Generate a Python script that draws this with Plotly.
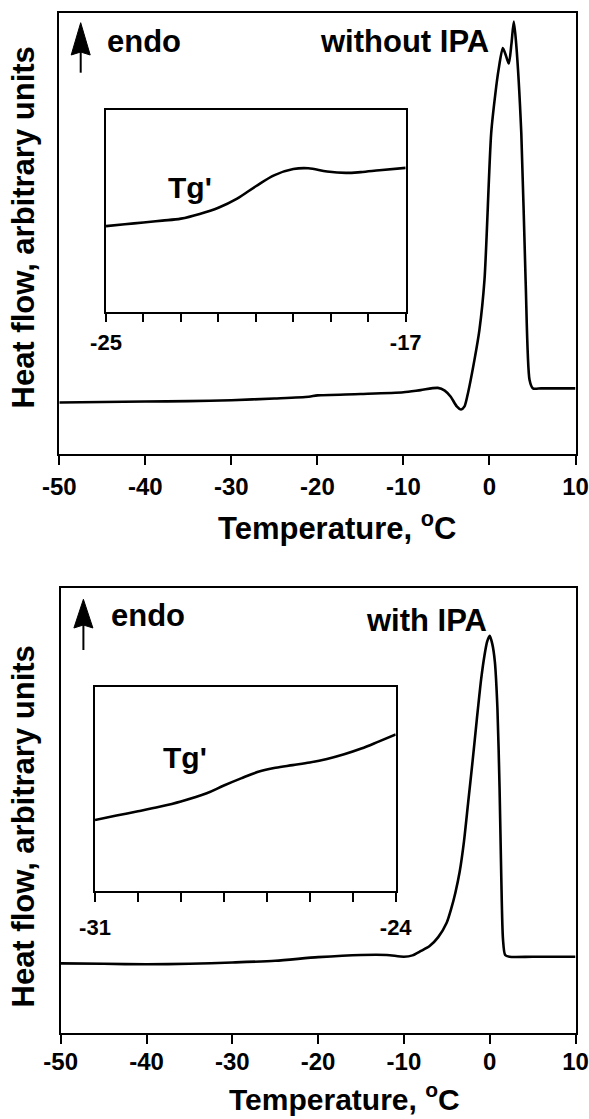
import plotly.graph_objects as go

W, H = 589, 1119

# ---------------- data ----------------
# Top panel: without IPA (main DSC trace)
top_T = [-50, -45, -40, -35, -30, -25, -21, -20, -15, -10, -8, -6.0, -5.2, -4.5, -3.8,
         -3.3, -2.9, -2.5, -1.75, -1.17, -0.58, 0.2, 0.7, 1.05, 1.55, 1.9, 2.25, 2.55,
         2.83, 3.1, 3.7, 4.2, 4.66, 5.05, 6, 8, 10]
top_hf = [11.7, 11.8, 11.9, 12.0, 12.2, 12.6, 13.0, 13.3, 13.6, 14.0, 14.5, 15.0, 14.4,
          13.0, 10.8, 10.1, 10.8, 13.8, 21.3, 28.1, 39.5, 72.8, 82.0, 87.1, 92.1, 90.5,
          88.6, 93.0, 98.1, 93.2, 72.8, 39.5, 16.8, 14.9, 14.9, 14.9, 14.9]

# Top inset (Tg' region, -25 .. -17)
top_in_T = [-25, -24.5, -24, -23.5, -23, -22.5, -22, -21.5, -21, -20.5, -20, -19.6,
            -19.1, -18.6, -18.2, -17.7, -17]
top_in_hf = [42.6, 43.5, 44.4, 45.3, 46.3, 48.6, 51.7, 56.2, 62.3, 67.8, 70.8, 71.2,
             69.6, 68.9, 69.3, 70.2, 71.4]

# Bottom panel: with IPA (main DSC trace)
bot_T = [-50, -45, -40, -35, -30, -25, -20, -15, -12, -10, -9, -8, -7, -6, -5, -4.5,
         -4, -3.5, -3, -2.5, -2, -1.5, -1, -0.6, -0.3, 0, 0.3, 0.6, 0.9, 1.15, 1.35,
         1.55, 1.8, 2.3, 5, 10]
bot_hf = [15.6, 15.5, 15.4, 15.5, 15.8, 16.2, 17.0, 17.5, 17.5, 17.1, 17.4, 18.4, 19.5,
          21.5, 24.8, 27.8, 31.5, 36.2, 43.0, 52.0, 61.0, 70.5, 79.5, 85.0, 88.0, 89.3,
          87.5, 83.5, 73.0, 55.0, 35.0, 21.0, 17.5, 17.1, 17.1, 17.1]

# Bottom inset (Tg' region, -31 .. -24)
bot_in_T = [-31, -30.5, -30, -29.5, -29, -28.4, -28, -27.6, -27.2, -26.8, -26.4, -26,
            -25.6, -25.2, -24.8, -24.4, -24]
bot_in_hf = [34.6, 36.8, 38.9, 41.1, 43.7, 47.7, 51.5, 55.0, 58.2, 60.2, 61.5, 62.8,
             64.5, 66.8, 69.6, 73.0, 76.5]

main_ticks = [-50, -40, -30, -20, -10, 0, 10]
top_in_labels = [-25, -17]
bot_in_labels = [-31, -24]

# ---------------- helpers ----------------
FONT = "Liberation Sans, Arial, Helvetica, sans-serif"


def px(x):
    return x / W


def py(y):
    return 1 - y / H


main_line = dict(color="black", width=2.6, shape="spline", smoothing=0.7)
inset_line = dict(color="black", width=2.6, shape="spline", smoothing=1.0)

fig = go.Figure()
fig.add_trace(go.Scatter(x=top_T, y=top_hf, mode="lines", line=main_line,
                         xaxis="x", yaxis="y", hoverinfo="skip"))
fig.add_trace(go.Scatter(x=top_in_T, y=top_in_hf, mode="lines", line=inset_line,
                         xaxis="x2", yaxis="y2", hoverinfo="skip"))
fig.add_trace(go.Scatter(x=bot_T, y=bot_hf, mode="lines", line=main_line,
                         xaxis="x3", yaxis="y3", hoverinfo="skip"))
fig.add_trace(go.Scatter(x=bot_in_T, y=bot_in_hf, mode="lines", line=inset_line,
                         xaxis="x4", yaxis="y4", hoverinfo="skip"))


def xax(domain, rng, tickvals, anchor, ticklen, fsize, standoff, minor=None):
    d = dict(domain=domain, range=rng, anchor=anchor, tickmode="array",
             tickvals=tickvals, ticktext=[str(v) for v in tickvals], ticks="outside",
             ticklen=ticklen, tickwidth=2, tickcolor="black",
             showline=True, mirror=True, linewidth=2, linecolor="black",
             showgrid=False, zeroline=False, automargin=False, fixedrange=True,
             ticklabeloverflow="allow",
             tickfont=dict(family=FONT, size=fsize, color="black", weight="bold"),
             ticklabelstandoff=standoff)
    if minor:
        d["minor"] = dict(ticks="outside", ticklen=ticklen, tickwidth=2,
                          tickcolor="black", dtick=minor, showgrid=False)
    return d


def yax(domain, anchor):
    return dict(domain=domain, range=[0, 100], anchor=anchor, showticklabels=False,
                ticks="", showline=True, mirror=True, linewidth=2, linecolor="black",
                showgrid=False, zeroline=False, automargin=False, fixedrange=True)


fig.update_layout(
    width=W, height=H, margin=dict(l=0, r=0, t=0, b=0, pad=0), autosize=False,
    paper_bgcolor="white", plot_bgcolor="white", showlegend=False,
    xaxis=xax([px(59.3), px(575.5)], [-50, 10], main_ticks, "y", 9, 24, 1),
    yaxis=yax([py(454), py(13.3)], "x"),
    xaxis2=xax([px(106), px(405.7)], [-25, -17], top_in_labels, "y2", 8, 22, 1,
               minor=1),
    yaxis2=yax([py(312.3), py(110)], "x2"),
    xaxis3=xax([px(60.7), px(575.5)], [-50, 10], main_ticks, "y3", 9, 24, -3),
    yaxis3=yax([py(1032.7), py(588.3)], "x3"),
    xaxis4=xax([px(95), px(395.7)], [-31, -24], bot_in_labels, "y4", 9, 22, 7,
               minor=1),
    yaxis4=yax([py(890.7), py(686.5)], "x4"),
)


def txt(text, x, y, size, xanchor="center", yanchor="middle", angle=0):
    fig.add_annotation(text=text, x=px(x), y=py(y), xref="paper", yref="paper",
                       showarrow=False, xanchor=xanchor, yanchor=yanchor,
                       textangle=angle,
                       font=dict(family=FONT, size=size, color="black", weight="bold"))


# top panel texts
txt("endo", 105, 41.7, 31, xanchor="left")
txt("without IPA", 404, 41.7, 31)
txt("Tg'", 190, 188, 30)
txt("Temperature, <sup>o</sup>C", 336.5, 548, 31, yanchor="bottom")
txt("Heat flow, arbitrary units", 23, 227.5, 31, angle=-90)

# bottom panel texts
txt("endo", 109, 615, 31, xanchor="left")
txt("with IPA", 426.5, 620, 31)
txt("Tg'", 185, 757, 30)
txt("Temperature, <sup>o</sup>C", 344.6, 1118, 30, yanchor="bottom")
txt("Heat flow, arbitrary units", 23, 826.5, 31, angle=-90)


# "endo" arrows
def arrow(xc, tip, base, end, half=9.5):
    path = (f"M {px(xc)},{py(tip)} L {px(xc + half)},{py(base)} "
            f"L {px(xc)},{py(base - 3)} L {px(xc - half)},{py(base)} Z")
    fig.add_shape(type="path", path=path, xref="paper", yref="paper",
                  fillcolor="black", line=dict(color="black", width=1))
    fig.add_shape(type="line", x0=px(xc), x1=px(xc), y0=py(base - 4), y1=py(end),
                  xref="paper", yref="paper", line=dict(color="black", width=2))


arrow(80.7, 22.7, 55, 72.7)
arrow(83.4, 599.3, 628, 650)

fig.write_html("out.html")
